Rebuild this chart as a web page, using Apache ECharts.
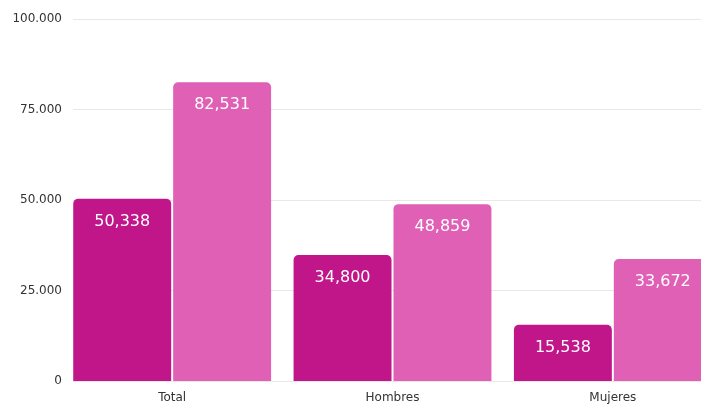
<!DOCTYPE html>
<html>
<head>
<meta charset="utf-8">
<style>
  html, body { margin: 0; padding: 0; background: #ffffff; }
  #chart { width: 701px; height: 406px; }
</style>
<script src="https://cdn.jsdelivr.net/npm/echarts@6/dist/echarts.min.js"></script>
</head>
<body>
<div id="chart"></div>
<script>
// Groups and the two compared series
const categories = ['Total', 'Hombres', 'Mujeres'];
const seriesA = [50338, 34800, 15538];
const seriesB = [82531, 48859, 33672];
const yTicks = [0, 25000, 50000, 75000, 100000];

const FONT = 'DejaVu Sans';
const darkPink = '#c0168a';
const lightPink = '#e060b5';

function thousandsDot(v) {
  return String(v).replace(/\B(?=(\d{3})+(?!\d))/g, '.');
}
function thousandsComma(v) {
  return String(v).replace(/\B(?=(\d{3})+(?!\d))/g, ',');
}

const chart = echarts.init(document.getElementById('chart'), null, { renderer: 'canvas' });

const labelStyle = {
  show: true,
  position: 'insideTop',
  distance: 15,
  color: '#ffffff',
  fontFamily: FONT,
  fontSize: 16,
  formatter: p => thousandsComma(p.value)
};

chart.setOption({
  animation: false,
  backgroundColor: '#ffffff',
  grid: [
    // value scale: labels and horizontal guides
    { left: 73, right: 0, top: 19, bottom: 25, outerBoundsMode: 'none', containLabel: false },
    // bars; the last group runs past the right edge
    { left: 62, width: 661, top: 19, bottom: 25, outerBoundsMode: 'none', containLabel: false }
  ],
  xAxis: [
    { gridIndex: 0, type: 'value', show: false, min: 0, max: 1 },
    {
      gridIndex: 1,
      type: 'category',
      data: categories,
      axisLine: { show: false },
      axisTick: { show: false },
      axisLabel: { color: '#333333', fontFamily: FONT, fontSize: 12, margin: 11 }
    }
  ],
  yAxis: [
    {
      gridIndex: 0,
      type: 'value',
      min: yTicks[0],
      max: yTicks[yTicks.length - 1],
      interval: yTicks[1] - yTicks[0],
      axisLine: { show: false },
      axisTick: { show: false },
      axisLabel: {
        color: '#333333',
        fontFamily: FONT,
        fontSize: 12,
        margin: 11,
        formatter: v => thousandsDot(v)
      },
      splitLine: { show: true, lineStyle: { color: '#e8e8e8', width: 1 } }
    },
    {
      gridIndex: 1,
      type: 'value',
      min: yTicks[0],
      max: yTicks[yTicks.length - 1],
      show: false,
      splitLine: { show: false }
    }
  ],
  series: [
    {
      type: 'bar',
      xAxisIndex: 1,
      yAxisIndex: 1,
      data: seriesA,
      barGap: '2%',
      barCategoryGap: '10.2%',
      itemStyle: { color: darkPink, borderRadius: [5, 5, 0, 0] },
      label: labelStyle
    },
    {
      type: 'bar',
      xAxisIndex: 1,
      yAxisIndex: 1,
      data: seriesB,
      barGap: '2%',
      barCategoryGap: '10.2%',
      itemStyle: { color: lightPink, borderRadius: [5, 5, 0, 0] },
      label: labelStyle
    }
  ]
});
</script>
</body>
</html>
